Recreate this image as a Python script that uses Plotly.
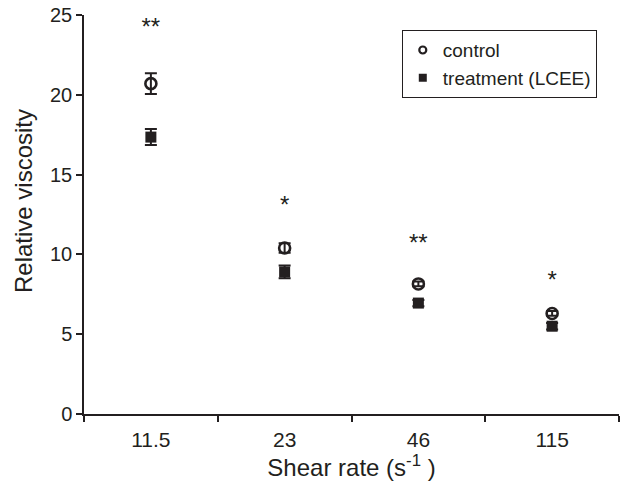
import plotly.graph_objects as go

shear_rates = ["11.5", "23", "46", "115"]
control = [20.7, 10.4, 8.15, 6.3]
control_err = [0.65, 0.3, 0.15, 0.15]
treatment = [17.35, 8.9, 6.95, 5.5]
treatment_err = [0.5, 0.4, 0.2, 0.2]
sig_labels = ["**", "*", "**", "*"]
sig_y = [24.1, 13.0, 10.6, 8.3]

INK = "#231f20"
FONT = "Liberation Sans, Arial, Helvetica, sans-serif"

fig = go.Figure()
fig.add_trace(go.Scatter(
    x=shear_rates, y=control, mode="markers", name="control", showlegend=False,
    marker=dict(symbol="circle-open", size=11, color=INK, line=dict(width=2.6, color=INK)),
    error_y=dict(type="data", array=control_err, visible=True, color=INK, thickness=2, width=6),
))
fig.add_trace(go.Scatter(
    x=shear_rates, y=treatment, mode="markers", name="treatment (LCEE)", showlegend=False,
    marker=dict(symbol="square", size=11, color=INK),
    error_y=dict(type="data", array=treatment_err, visible=True, color=INK, thickness=2, width=6),
))
# legend entries (smaller legend symbols as in the reference)
fig.add_trace(go.Scatter(
    x=[None], y=[None], mode="markers", name="control",
    marker=dict(symbol="circle-open", size=7, color=INK, line=dict(width=2.2, color=INK)),
))
fig.add_trace(go.Scatter(
    x=[None], y=[None], mode="markers", name="treatment (LCEE)",
    marker=dict(symbol="square", size=8, color=INK),
))
# significance marks
fig.add_trace(go.Scatter(
    x=shear_rates, y=sig_y, mode="text", text=sig_labels, showlegend=False,
    textfont=dict(family=FONT, size=24, color=INK), hoverinfo="skip",
))

fig.add_annotation(
    text="Relative viscosity", xref="paper", yref="paper",
    x=-0.112, y=0.534, textangle=-90, showarrow=False,
    xanchor="center", yanchor="middle",
    font=dict(family=FONT, size=24, color=INK),
)

fig.update_layout(
    width=621, height=496,
    margin=dict(l=84, r=2, t=15, b=82),
    paper_bgcolor="white", plot_bgcolor="white",
    font=dict(family=FONT, size=20, color=INK),
    showlegend=True,
    legend=dict(
        x=0.594, y=0.962, xanchor="left", yanchor="top",
        bordercolor=INK, borderwidth=1, bgcolor="white",
        font=dict(family=FONT, size=19, color=INK),
        itemsizing="trace", tracegroupgap=0, itemwidth=30,
    ),
)
fig.update_xaxes(
    type="category", categoryorder="array", categoryarray=shear_rates,
    range=[-0.5, 3.5], tickson="boundaries",
    showline=True, linecolor=INK, linewidth=1.5,
    ticks="outside", ticklen=6, tickwidth=1.5, tickcolor=INK,
    showgrid=False, zeroline=False, ticklabelstandoff=6,
    tickfont=dict(family=FONT, size=21, color=INK),
    title=dict(text="Shear rate (s<sup>-1</sup> )", font=dict(family=FONT, size=24, color=INK), standoff=6),
)
fig.update_yaxes(
    range=[0, 25], tickvals=[0, 5, 10, 15, 20, 25],
    showline=True, linecolor=INK, linewidth=1.5,
    ticks="outside", ticklen=6, tickwidth=1.5, tickcolor=INK,
    showgrid=False, zeroline=False,
    tickfont=dict(family=FONT, size=20, color=INK),
)

fig.write_html("out.html")
